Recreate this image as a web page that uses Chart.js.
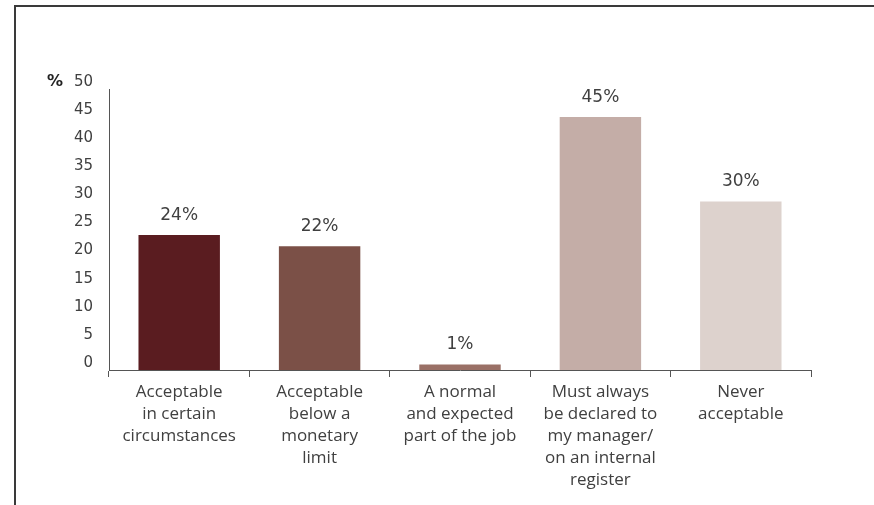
<!DOCTYPE html>
<html>
<head>
<meta charset="utf-8">
<script src="https://cdn.jsdelivr.net/npm/chart.js@4.4.0/dist/chart.umd.min.js"></script>
<style>
  body { margin: 0; background: #fff; }
  #wrap { width: 874px; height: 505px; }
</style>
</head>
<body>
<div id="wrap"><canvas id="chart" width="874" height="505"></canvas></div>
<script>
// categories (multi-line labels as in the picture)
var categories = [
  ['Acceptable', 'in certain', 'circumstances'],
  ['Acceptable', 'below a', 'monetary', 'limit'],
  ['A normal', 'and expected', 'part of the job'],
  ['Must always', 'be declared to', 'my manager/', 'on an internal', 'register'],
  ['Never', 'acceptable']
];
var percents = [24, 22, 1, 45, 30];
var barColors = ['#5a1c20', '#7b5047', '#9a7066', '#c4ada7', '#ddd2cd'];
var yMin = 0, yMax = 50, yStep = 5;

var textColor = '#404040';
var axisColor = '#555555';

// frame lines + the bold "%" next to the y axis
var framePlugin = {
  id: 'frame',
  beforeDraw: function(chart) {
    var ctx = chart.ctx;
    ctx.save();
    ctx.strokeStyle = '#3a3a3a';
    ctx.lineWidth = 2;
    ctx.beginPath();
    ctx.moveTo(874, 6);
    ctx.lineTo(15, 6);
    ctx.lineTo(15, 505);
    ctx.stroke();

    var y = chart.scales.y.getPixelForValue(yMax) - 7;
    ctx.fillStyle = '#222';
    ctx.font = 'bold 16px "DejaVu Sans"';
    ctx.textAlign = 'center';
    ctx.textBaseline = 'middle';
    ctx.fillText('%', 55, y);
    ctx.restore();
  }
};

// percentage labels above the bars
var valuePlugin = {
  id: 'values',
  afterDatasetsDraw: function(chart) {
    var ctx = chart.ctx;
    var meta = chart.getDatasetMeta(0);
    ctx.save();
    ctx.fillStyle = textColor;
    ctx.font = '17px "DejaVu Sans"';
    ctx.textAlign = 'center';
    ctx.textBaseline = 'middle';
    meta.data.forEach(function(bar, i) {
      ctx.fillText(percents[i] + '%', bar.x, bar.y - 20);
    });
    ctx.restore();
  }
};

var ctx = document.getElementById('chart');
var chart = new Chart(ctx, {
  type: 'bar',
  data: {
    labels: categories,
    datasets: [{
      data: percents,
      backgroundColor: barColors,
      borderWidth: 0,
      categoryPercentage: 1,
      barPercentage: 0.58
    }]
  },
  options: {
    responsive: false,
    animation: false,
    devicePixelRatio: 1,
    layout: { padding: { top: 89, right: 63, bottom: 0, left: 0 } },
    plugins: {
      legend: { display: false },
      tooltip: { enabled: false }
    },
    scales: {
      x: {
        grid: {
          display: true,
          drawOnChartArea: false,
          drawTicks: true,
          tickLength: 7,
          color: axisColor,
          offset: true
        },
        border: { display: true, color: axisColor, width: 1 },
        ticks: {
          color: textColor,
          font: { family: '"Open Sans"', size: 17, lineHeight: '22px' },
          padding: 4,
          maxRotation: 0,
          autoSkip: false
        },
        afterFit: function(scale) { scale.height = 135; }
      },
      y: {
        min: yMin,
        max: yMax,
        grid: { display: false },
        border: { display: true, color: axisColor, width: 1 },
        ticks: {
          stepSize: yStep,
          color: textColor,
          font: { family: '"DejaVu Sans"', size: 15 },
          padding: 8,
          labelOffset: -7
        },
        afterFit: function(scale) { scale.width = 109; }
      }
    }
  },
  plugins: [framePlugin, valuePlugin]
});
</script>
</body>
</html>
